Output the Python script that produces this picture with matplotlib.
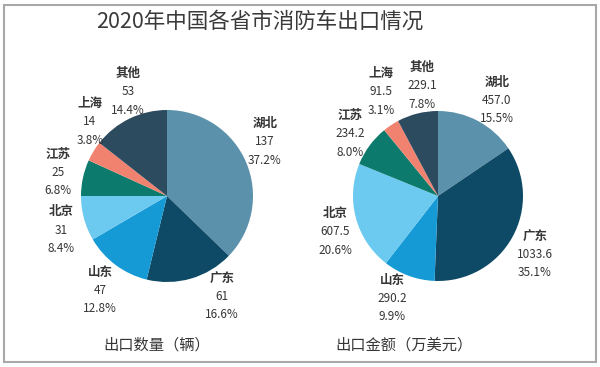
import matplotlib
matplotlib.use("Agg")
import matplotlib.pyplot as plt
from matplotlib.patches import Rectangle

plt.rcParams['font.family'] = ['Noto Sans CJK SC', 'DejaVu Sans']

# data
regions = ["湖北", "广东", "山东", "北京", "江苏", "上海", "其他"]
qty = [137, 61, 47, 31, 25, 14, 53]
qty_pct = ["37.2%", "16.6%", "12.8%", "8.4%", "6.8%", "3.8%", "14.4%"]
amount = [457.0, 1033.6, 290.2, 607.5, 234.2, 91.5, 229.1]
amount_txt = ["457.0", "1033.6", "290.2", "607.5", "234.2", "91.5", "229.1"]
amount_pct = ["15.5%", "35.1%", "9.9%", "20.6%", "8.0%", "3.1%", "7.8%"]

colors = ["#5b91ab", "#0e4a66", "#159ad6", "#6ccaf0", "#0c7a6c", "#f0826f", "#2d4b5e"]

W, H = 600, 367
TXT = "#363636"

# label block positions (pixels, centre of name line)
left_lbl = [(265, 123), (222, 278), (100, 272), (61, 212), (58, 154), (90, 103), (128, 73)]
right_lbl = [(497, 82), (535, 236), (392, 280), (335, 213), (350, 115), (381, 73), (422, 67)]

fig = plt.figure(figsize=(6, 3.67), dpi=100)
ax = fig.add_axes([0, 0, 1, 1])


def draw_pie(vals, cx, cy, r, labels_pos, vtxt, ptxt):
    ax.pie(vals, colors=colors, startangle=90, counterclock=False,
           center=(cx, H - cy), radius=r, wedgeprops=dict(linewidth=0))
    for name, v, p, (x, y) in zip(regions, vtxt, ptxt, labels_pos):
        ax.text(x, H - y, name, ha="center", va="center", fontsize=9,
                fontweight="bold", color=TXT)
        ax.text(x, H - y - 18.5, v, ha="center", va="center", fontsize=8.5,
                fontweight="medium", color=TXT)
        ax.text(x, H - y - 37, p, ha="center", va="center", fontsize=8.5,
                fontweight="medium", color=TXT)


draw_pie(qty, 167, 196, 86, left_lbl, [str(v) for v in qty], qty_pct)
draw_pie(amount, 438, 196, 85, right_lbl, amount_txt, amount_pct)

ax.set_xlim(0, W)
ax.set_ylim(0, H)
ax.set_aspect("equal")
ax.axis("off")

ax.text(260, H - 22, "2020年中国各省市消防车出口情况", ha="center", va="center",
        fontsize=15.5, color="#3a3a3a")
ax.text(157, H - 345, "出口数量（辆）", ha="center", va="center", fontsize=11, color=TXT)
ax.text(404, H - 345, "出口金额（万美元）", ha="center", va="center", fontsize=11, color=TXT)

fig.add_artist(Rectangle((4 / W, 1 - 362 / H), 592 / W, 357 / H, transform=fig.transFigure,
                         fill=False, edgecolor="#a8a8a8", linewidth=1.5))

fig.savefig("out.png", dpi=100, facecolor="white")
